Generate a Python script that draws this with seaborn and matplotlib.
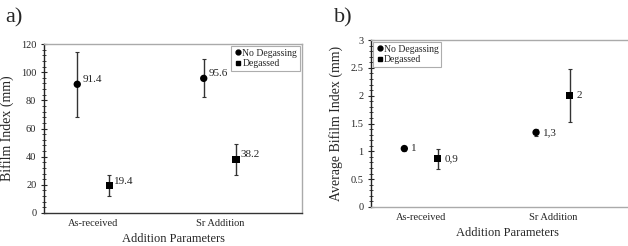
import numpy as np
import pandas as pd
import matplotlib
matplotlib.use("Agg")
import matplotlib.pyplot as plt
import seaborn as sns
from matplotlib.ticker import MultipleLocator, FuncFormatter
from matplotlib.lines import Line2D

categories = ["As-received", "Sr Addition"]
series = ["No Degassing", "Degassed"]

# panel a
a_nodegas = [91.4, 95.6]
a_nodegas_err = [23.0, 13.5]
a_degas = [19.4, 38.2]
a_degas_err = [7.5, 11.0]
a_nodegas_labels = ["91.4", "95.6"]
a_degas_labels = ["19.4", "38.2"]

# panel b
b_nodegas = [1.05, 1.34]
b_nodegas_err = [0.05, 0.07]
b_degas = [0.87, 2.0]
b_degas_err = [0.18, 0.48]
b_nodegas_labels = ["1", "1,3"]
b_degas_labels = ["0,9", "2"]

sns.set_style("ticks")
plt.rcParams["font.family"] = ["Liberation Serif", "DejaVu Serif"]

W, H = 628, 246
fig = plt.figure(figsize=(W / 100, H / 100), dpi=100)


def ax_px(l, t, r, b):
    return fig.add_axes([l / W, 1 - b / H, (r - l) / W, (b - t) / H])


def panel(ax, nd, nde, dg, dge, ndl, dgl, ylim, major, minor, ylabel, off, lbl_dx, xlim, fmt):
    xc = np.arange(len(categories))
    rows = []
    for i, c in enumerate(categories):
        rows.append(dict(x=xc[i] - off, y=nd[i], s=series[0]))
        rows.append(dict(x=xc[i] + off, y=dg[i], s=series[1]))
    df = pd.DataFrame(rows)
    ax.errorbar(xc - off, nd, yerr=nde, fmt="none", ecolor="#333333", elinewidth=1.0, capsize=1.5, capthick=0.8, zorder=2)
    ax.errorbar(xc + off, dg, yerr=dge, fmt="none", ecolor="#333333", elinewidth=1.0, capsize=1.5, capthick=0.8, zorder=2)
    sns.scatterplot(data=df, x="x", y="y", style="s", markers={series[0]: "o", series[1]: "s"},
                    color="black", s=28, edgecolor="black", linewidth=0, ax=ax, legend=False, zorder=3)
    for i in range(len(categories)):
        ax.text(xc[i] - off + lbl_dx, nd[i], ndl[i], fontsize=8, va="bottom" if fmt == "a" else "center", ha="left")
        ax.text(xc[i] + off + lbl_dx, dg[i], dgl[i], fontsize=8, va="bottom" if fmt == "a" else "center", ha="left")
    ax.set_xlim(*xlim)
    ax.set_ylim(*ylim)
    ax.set_xticks(xc)
    ax.set_xticklabels(categories, fontsize=7.5)
    ax.tick_params(axis="x", length=0, pad=4)
    ax.yaxis.set_major_locator(MultipleLocator(major))
    ax.yaxis.set_minor_locator(MultipleLocator(minor))
    ax.yaxis.set_major_formatter(FuncFormatter(lambda v, p: f"{v:g}"))
    ax.tick_params(axis="y", which="major", direction="inout", length=5, width=0.8, labelsize=7.5, pad=3)
    ax.tick_params(axis="y", which="minor", direction="inout", length=3, width=0.6)
    ax.set_xlabel("Addition Parameters", fontsize=9, labelpad=4)
    ax.set_ylabel(ylabel, fontsize=10, labelpad=5)
    ax.spines["left"].set_color("#222222")
    ax.spines["left"].set_linewidth(1.0)
    for s in ["top", "right", "bottom"]:
        ax.spines[s].set_color("#aaaaaa")
        ax.spines[s].set_linewidth(1.0)
        ax.spines[s].set_visible(True)


ax1 = ax_px(44, 44, 302, 213)
panel(ax1, a_nodegas, a_nodegas_err, a_degas, a_degas_err, a_nodegas_labels, a_degas_labels,
      (0, 120), 20, 4, "Bifilm Index (mm)", 0.127, 0.04, (-0.39, 1.65), "a")
ax1.spines["bottom"].set_color("#333333")
handles = [Line2D([], [], marker="o", color="black", ls="none", markersize=3.5),
           Line2D([], [], marker="s", color="black", ls="none", markersize=3.5)]
leg1 = ax1.legend(handles, series, loc="upper right", fontsize=7, frameon=True, fancybox=False,
                  edgecolor="#999999", handletextpad=0.1, handlelength=0.8, borderpad=0.25,
                  labelspacing=0.15, borderaxespad=0.25)
leg1.get_frame().set_linewidth(0.8)

ax2 = ax_px(371, 40, 645, 207)
panel(ax2, b_nodegas, b_nodegas_err, b_degas, b_degas_err, b_nodegas_labels, b_degas_labels,
      (0, 3), 0.5, 0.1, "Average Bifilm Index (mm)", 0.127, 0.05, (-0.38, 1.7), "b")
leg2 = ax2.legend(handles, series, loc="upper left", fontsize=7, frameon=True, fancybox=False,
                  edgecolor="#999999", handletextpad=0.0, handlelength=0.8, borderpad=0.25,
                  labelspacing=0.15, borderaxespad=0.25)
leg2.get_frame().set_linewidth(0.8)

fig.text(5 / W, 1 - 22 / H, "a)", fontsize=16)
fig.text(334 / W, 1 - 22 / H, "b)", fontsize=16)

fig.savefig("out.png", dpi=100)
